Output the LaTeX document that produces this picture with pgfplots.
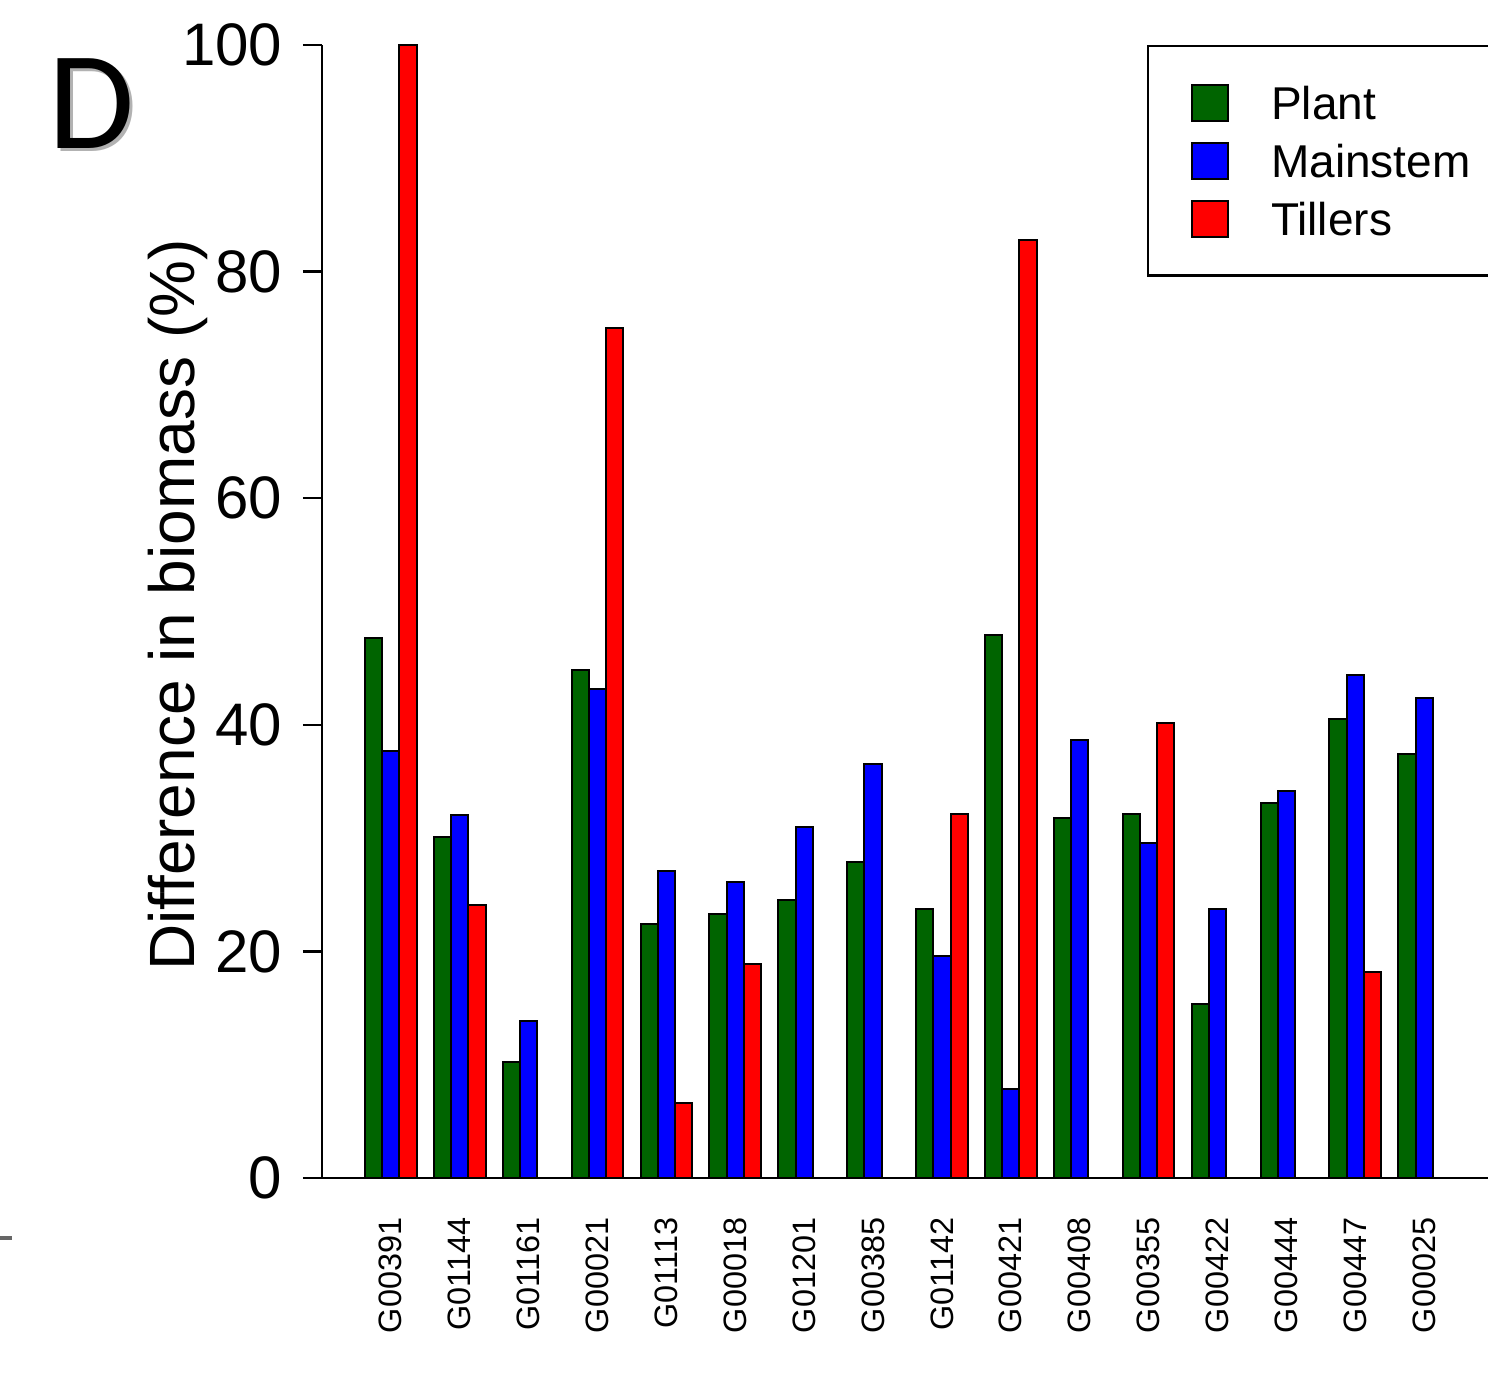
\documentclass[border=0pt]{standalone}
\usepackage{pgfplots}
\pgfplotsset{compat=1.18}
\usepackage{pgfplotstable}
\usepackage{fontspec}
\setmainfont{Liberation Sans}
\newfontfamily\carlito{Carlito}
\definecolor{pgreen}{RGB}{0,100,0}
\definecolor{pblue}{RGB}{0,0,255}
\definecolor{pred}{RGB}{255,0,0}

\pgfplotstableread{
x y
1.5 47.7
5.5 30.1
9.5 10.2
13.5 44.8
17.5 22.4
21.5 23.3
25.5 24.5
29.5 27.9
33.5 23.7
37.5 47.9
41.5 31.8
45.5 32.1
49.5 15.4
53.5 33.1
57.5 40.5
61.5 37.4
}\plant

\pgfplotstableread{
x y
2.5 37.7
6.5 32.0
10.5 13.9
14.5 43.2
18.5 27.1
22.5 26.1
26.5 31.0
30.5 36.5
34.5 19.6
38.5 7.9
42.5 38.7
46.5 29.6
50.5 23.7
54.5 34.2
58.5 44.4
62.5 42.4
}\mainstem

\pgfplotstableread{
x y
3.5 100
7.5 24.1
15.5 75.0
19.5 6.6
23.5 18.9
35.5 32.1
39.5 82.8
47.5 40.2
59.5 18.2
}\tillers

\begin{document}
\begin{tikzpicture}
\useasboundingbox (0,0) rectangle (372pt,346.25pt);
\begin{axis}[
  at={(80.5pt,51.75pt)}, anchor=south west,
  scale only axis, width=291.5pt, height=283.25pt,
  xmin=-1.497, xmax=66.21, ymin=0, ymax=100,
  clip=false,
  axis lines*=left,
  x axis line style={draw=none},
  y axis line style={line width=0.6pt, -},
  ybar, bar width=1,
  legend image code/.code={\draw[#1, draw=black, line width=0.5pt] (0pt,-4.5pt) rectangle (9pt,4.5pt);},
  xtick={2.5,6.5,...,62.5},
  xticklabels={G00391,G01144,G01161,G00021,G01113,G00018,G01201,G00385,G01142,G00421,G00408,G00355,G00422,G00444,G00447,G00025},
  xtick style={draw=none},
  xticklabel style={rotate=90, anchor=east, inner sep=0pt, font=\fontsize{8.1}{9}\selectfont},
  xticklabel shift=5pt,
  ytick={0,20,...,100},
  tick align=outside,
  major tick length=4.75pt,
  ytick style={line width=0.6pt, black},
  yticklabel style={anchor=east, inner sep=0pt, xshift=-5pt, font=\fontsize{15}{16}\selectfont},
  /pgf/number format/assume math mode=true,
  every axis y label/.style={at={(axis description cs:-0.1235,0.5057)}, rotate=90, anchor=center},
  ylabel={Difference in biomass (\%)},
  ylabel style={font=\fontsize{16}{18}\selectfont},
  legend style={at={(0.7075,1)}, anchor=north west, draw=black, line width=0.6pt, fill=white,
    inner xsep=10.75pt, inner ysep=9.4pt, row sep=5pt, column sep=10.5pt,
    font=\fontsize{11.5}{13}\selectfont,
    nodes={inner sep=0pt, text height=8.3pt, text depth=0pt}},
  legend cell align=left,
]
\addplot[fill=pgreen, draw=black, line width=0.5pt, bar shift=0pt] table[x=x,y=y] {\plant};
\addlegendentry{Plant}
\addplot[fill=pblue, draw=black, line width=0.5pt, bar shift=0pt] table[x=x,y=y] {\mainstem};
\addlegendentry{Mainstem}
\addplot[fill=pred, draw=black, line width=0.5pt, bar shift=0pt] table[x=x,y=y] {\tillers};
\addlegendentry{Tillers}
\draw[line width=0.6pt] (axis cs:-2.6,0) -- (axis cs:67,0);
\end{axis}
\node[font=\carlito\fontsize{35}{40}\selectfont, text=black!30] at (23.7pt,319.6pt) {D};
\node[font=\carlito\fontsize{35}{40}\selectfont] at (23pt,320.25pt) {D};
\draw[line width=0.9pt, black!60] (0pt,36.75pt) -- (3pt,36.75pt);
\end{tikzpicture}
\end{document}
